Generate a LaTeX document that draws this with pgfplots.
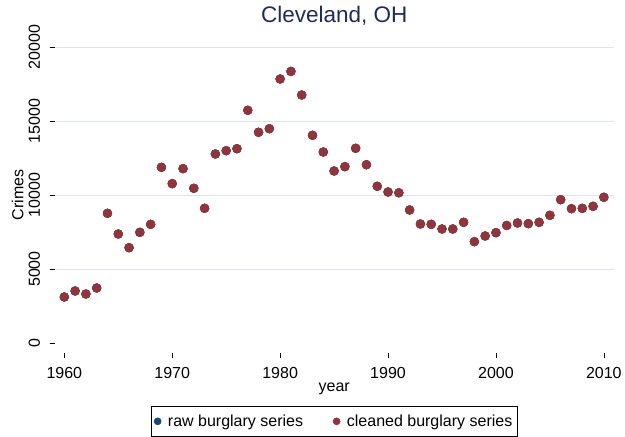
\documentclass[border=0pt]{standalone}
\usepackage{pgfplots}
\pgfplotsset{compat=1.18}
\usepackage{pgfplotstable}
\usepackage{fontspec}
\setmainfont{Liberation Sans}
\definecolor{stmaroon}{RGB}{144,53,59}
\definecolor{stnavy}{RGB}{26,71,111}
\definecolor{sttitle}{RGB}{30,45,85}
\definecolor{stgrid}{RGB}{220,230,234}
\pgfplotstableread{
year crimes
1960 3108
1961 3514
1962 3311
1963 3716
1964 8761
1965 7365
1966 6441
1967 7478
1968 8018
1969 11870
1970 10766
1971 11780
1972 10453
1973 9101
1974 12771
1975 12994
1976 13129
1977 15723
1978 14237
1979 14480
1980 17838
1981 18350
1982 16757
1983 14034
1984 12906
1985 11622
1986 11915
1987 13156
1988 12048
1989 10588
1990 10203
1991 10150
1992 8987
1993 8041
1994 8018
1995 7703
1996 7703
1997 8153
1998 6847
1999 7230
2000 7455
2001 7940
2002 8108
2003 8063
2004 8153
2005 8626
2006 9685
2007 9077
2008 9100
2009 9235
2010 9845
}\cleaned
\begin{document}
\begin{tikzpicture}
\useasboundingbox (0,0) rectangle (625bp,437bp);
\begin{axis}[
  at={(54.5bp,84bp)}, anchor=south west,
  scale only axis, width=559.5bp, height=316bp,
  xmin=1959.09, xmax=2010.94, ymin=-676, ymax=20676,
  axis line style={draw=none},
  xtick={1960,1970,...,2010}, ytick={0,5000,...,20000},
  scaled y ticks=false,
  xtick pos=left, ytick pos=left,
  tick align=outside, major tick length=5bp,
  tick style={black, line width=0.6bp},
  extra y ticks={5000,10000,15000,20000},
  extra y tick labels={},
  extra y tick style={ymajorgrids=true, major tick length=0pt},
  grid style={stgrid, line width=0.8bp},
  /pgf/number format/assume math mode=true,
  /pgf/number format/1000 sep={},
  tick label style={font=\fontsize{16bp}{18bp}\selectfont},
  yticklabel style={rotate=90, anchor=south},
  yticklabel shift=6bp,
  xticklabel style={anchor=north},
  xticklabel shift=5.5bp,
  title={Cleveland, OH},
  title style={at={(0.5,1)}, anchor=base, yshift=8.7bp, font=\fontsize{22.5bp}{26bp}\selectfont, text=sttitle},
  xlabel={year},
  xlabel style={at={(axis description cs:0.5,-0.1203)}, anchor=base, font=\fontsize{16bp}{18bp}\selectfont},
  ylabel={Crimes},
  ylabel style={at={(axis description cs:-0.05577,0.5)}, anchor=base, rotate=0, font=\fontsize{16bp}{18bp}\selectfont},
  legend columns=2,
  legend style={at={(0.5,-0.1677)}, anchor=north, draw=black, line width=0.6bp,
    font=\fontsize{16bp}{18bp}\selectfont, inner xsep=3bp, inner ysep=6.5bp,
    /tikz/every odd column/.append style={column sep=3bp},
    /tikz/every even column/.append style={column sep=28bp}},
  legend image code/.code={\path (-1bp,0bp) (5bp,0bp); \draw[#1, mark size=3.5bp] plot coordinates {(0bp,0bp)};},
]
\addplot[only marks, mark=*, mark size=4.5bp, mark options={fill=stnavy, draw=stnavy}] table[x=year, y=crimes] {\cleaned};
\addlegendentry{raw burglary series}
\addplot[only marks, mark=*, mark size=4.5bp, mark options={fill=stmaroon, draw=stmaroon}] table[x=year, y=crimes] {\cleaned};
\addlegendentry{cleaned burglary series\hspace{22bp}}
\end{axis}
\end{tikzpicture}
\end{document}
